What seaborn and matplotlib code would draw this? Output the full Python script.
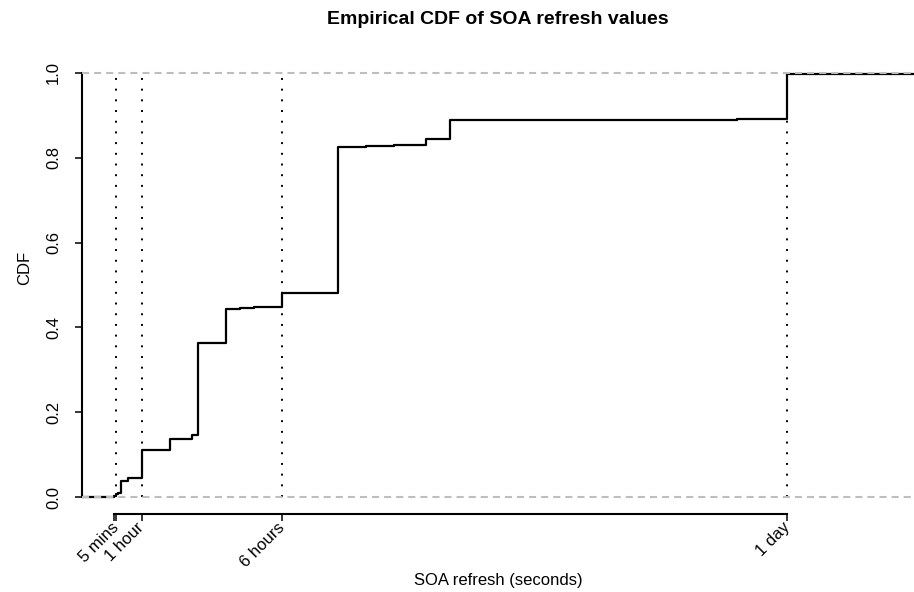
import pandas as pd
import matplotlib
matplotlib.use("Agg")
import matplotlib.pyplot as plt
import seaborn as sns

# SOA refresh values (seconds) where the ECDF steps, and the CDF after each step
refresh_secs = [60, 300, 600, 900, 1800, 3600, 7200, 10000, 10800, 14400,
                16200, 18000, 21600, 23000, 28800, 32400, 36000, 40000,
                43200, 54000, 63200, 80000, 86400, 604800]
cdf_values = [0.002, 0.006, 0.009, 0.038, 0.046, 0.112, 0.136, 0.146, 0.363,
              0.443, 0.445, 0.448, 0.481, 0.482, 0.826, 0.828, 0.8295, 0.844,
              0.888, 0.889, 0.890, 0.892, 0.997, 1.0]

# axis marks
tick_secs = [0, 300, 3600, 21600, 86400]
tick_labels = ["", "5 mins", "1 hour", "6 hours", "1 day"]
marker_secs = [300, 3600, 21600, 86400]

x_lim = (-4060, 102650)
y_lim = (-0.04, 1.04)

sns.set_style("white")
plt.rcParams["font.family"] = ["Liberation Sans", "DejaVu Sans"]
plt.rcParams["text.color"] = "black"
plt.rcParams["axes.labelcolor"] = "black"

# step line starts at the left edge of the plot at 0
df = pd.DataFrame({
    "refresh": [x_lim[0]] + refresh_secs,
    "cdf": [0.0] + cdf_values,
})

fig = plt.figure(figsize=(9.14, 5.92), dpi=100)
ax = fig.add_axes([82 / 914, 78 / 592, 832 / 914, 458 / 592])

# dotted reference lines at the tick values, from cdf 0 to cdf 1
span = y_lim[1] - y_lim[0]
for xv in marker_secs:
    ax.axvline(xv, ymin=(0 - y_lim[0]) / span, ymax=(1 - y_lim[0]) / span,
               color="black", linewidth=1.4, linestyle=(0, (1, 4.5)),
               zorder=1)

sns.lineplot(
    data=df,
    x="refresh",
    y="cdf",
    drawstyle="steps-post",
    estimator=None,
    color="black",
    linewidth=1.6,
    ax=ax,
    zorder=2
)

for yv in [0, 1]:
    ax.axhline(yv, color="#bebebe", linewidth=1.5,
               linestyle=(0, (3.4, 2.4)), zorder=3)

ax.set_xlim(*x_lim)
ax.set_ylim(*y_lim)

sns.despine(ax=ax, top=True, right=True)
ax.spines["left"].set_bounds(0, 1)
ax.spines["bottom"].set_bounds(0, 86400)
for side in ["left", "bottom"]:
    ax.spines[side].set_linewidth(1.5)
    ax.spines[side].set_color("black")

ax.set_yticks([0, 0.2, 0.4, 0.6, 0.8, 1.0])
ax.set_yticklabels(["0.0", "0.2", "0.4", "0.6", "0.8", "1.0"],
                   rotation=90, va="center")
ax.set_xticks(tick_secs)
ax.set_xticklabels(tick_labels, rotation=45, ha="right", va="center",
                   rotation_mode="anchor")

ax.tick_params(axis="both", which="both", direction="out", length=5,
               width=1.1, color="black", labelsize=12, labelcolor="black",
               left=True, bottom=True)
ax.tick_params(axis="y", pad=10)
ax.tick_params(axis="x", pad=3)

ax.set_xlabel("SOA refresh (seconds)", fontsize=12, color="black")
ax.xaxis.set_label_coords(0.5, -0.128)
ax.set_ylabel("CDF", fontsize=12, color="black")
ax.yaxis.set_label_coords(-0.060, 0.537)

ax.set_title("Empirical CDF of SOA refresh values", fontsize=14,
             fontweight="bold", pad=23, color="black")

plt.savefig("out.png", dpi=100)
